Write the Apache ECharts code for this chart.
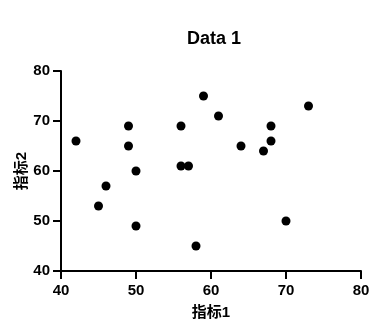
<!DOCTYPE html>
<html>
<head>
<meta charset="utf-8">
<script src="https://cdn.jsdelivr.net/npm/echarts@6/dist/echarts.min.js"></script>
<style>html,body{margin:0;padding:0;background:#fff}#c{width:381px;height:335px}</style>
</head>
<body>
<div id="c"></div>
<script>
const titleText = 'Data 1';
const xName = '指标1';
const yName = '指标2';
const xValues = [42, 46, 45, 49, 49, 50, 50, 56, 56, 57, 58, 59, 61, 64, 67, 68, 68, 70, 73];
const yValues = [66, 57, 53, 69, 65, 60, 49, 69, 61, 61, 45, 75, 71, 65, 64, 69, 66, 50, 73];
const xTicks = [40, 50, 60, 70, 80];
const yTicks = [40, 50, 60, 70, 80];

const font = '"Liberation Sans", Arial, "Noto Sans CJK SC", sans-serif';
const data = xValues.map((x, i) => [x, yValues[i]]);
const chart = echarts.init(document.getElementById('c'), null, {renderer: 'canvas'});
const axisCommon = {
  type: 'value',
  splitLine: {show: false},
  axisLine: {show: true, lineStyle: {color: '#000', width: 2}},
  axisTick: {show: true, length: 8, lineStyle: {color: '#000', width: 2}},
  axisLabel: {color: '#000', fontSize: 15, fontWeight: 'bold', fontFamily: font},
  nameLocation: 'middle',
  nameTextStyle: {color: '#000', fontSize: 15, fontWeight: 'bold', fontFamily: font}
};
chart.setOption({
  animation: false,
  backgroundColor: '#fff',
  title: {
    text: titleText, left: 182, top: 25,
    textStyle: {color: '#000', fontSize: 18, fontWeight: 'bold', fontFamily: font}
  },
  grid: {left: 61, right: 20, top: 71, bottom: 64, containLabel: false},
  xAxis: Object.assign({}, axisCommon, {
    min: xTicks[0], max: xTicks[xTicks.length - 1], interval: xTicks[1] - xTicks[0],
    name: xName, nameGap: 34,
    axisLabel: Object.assign({}, axisCommon.axisLabel, {margin: 12})
  }),
  yAxis: Object.assign({}, axisCommon, {
    min: yTicks[0], max: yTicks[yTicks.length - 1], interval: yTicks[1] - yTicks[0],
    name: yName, nameGap: 32, nameMoveOverlap: false,
    axisLabel: Object.assign({}, axisCommon.axisLabel, {margin: 11})
  }),
  series: [{
    type: 'scatter',
    data: data,
    symbol: 'circle',
    symbolSize: 9,
    itemStyle: {color: '#000', opacity: 1}
  }]
});
</script>
</body>
</html>
